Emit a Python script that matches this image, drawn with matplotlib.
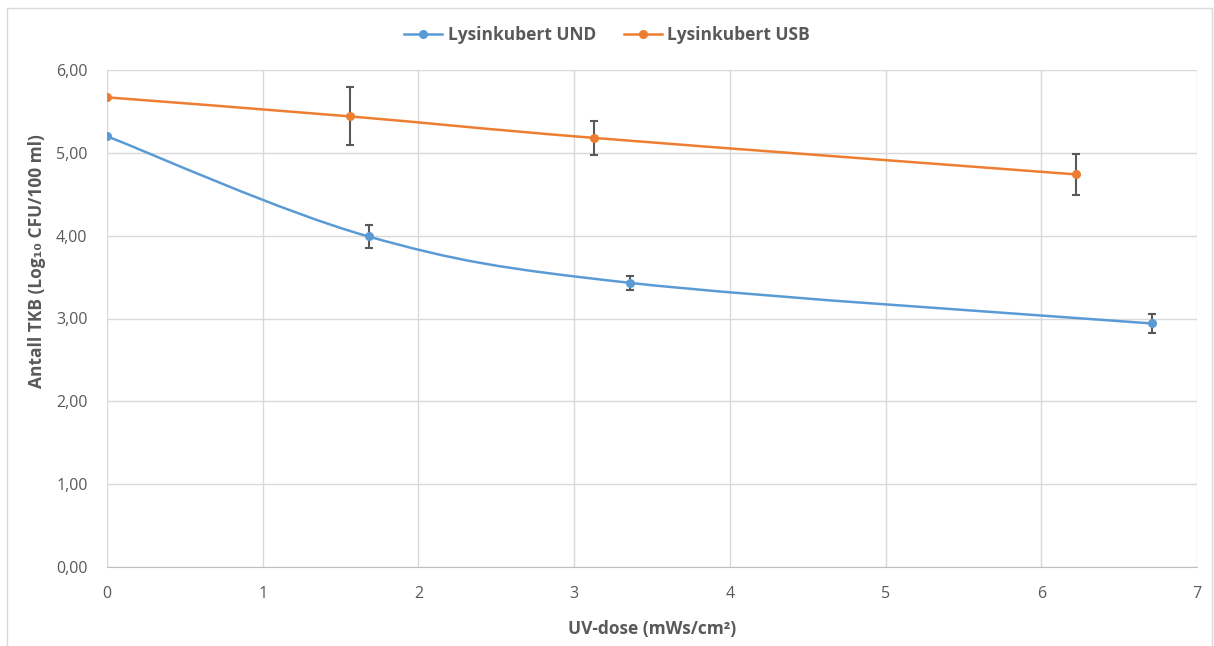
import matplotlib.pyplot as plt
import numpy as np
from matplotlib.path import Path
from matplotlib.patches import PathPatch, Rectangle
from matplotlib.lines import Line2D

plt.rcParams['font.family'] = ['Open Sans', 'DejaVu Sans']

# Data
dose_und = [0.0, 1.68, 3.36, 6.71]
tkb_und = [5.20, 3.99, 3.43, 2.94]
err_und = [0.0, 0.14, 0.08, 0.11]

dose_usb = [0.0, 1.56, 3.13, 6.22]
tkb_usb = [5.67, 5.44, 5.18, 4.74]
err_usb = [0.0, 0.35, 0.21, 0.25]

labels = ['Lysinkubert UND', 'Lysinkubert USB']
colors = ['#5B9BD5', '#ED7D31']
grey = '#595959'


def smooth_path(x, y):
    # Excel-like smoothed line: cubic bezier through the points
    p = np.column_stack([x, y])
    ext = np.vstack([p[0], p, p[-1]])
    verts = [p[0]]
    codes = [Path.MOVETO]
    for i in range(len(p) - 1):
        a, b, c, d = ext[i], ext[i + 1], ext[i + 2], ext[i + 3]
        verts += [b + (c - a) / 6, c - (d - b) / 6, c]
        codes += [Path.CURVE4] * 3
    return Path(verts, codes)


fig = plt.figure(figsize=(12.14, 6.46), dpi=100)
fig.patches.append(Rectangle((7 / 1214, -0.01), 1205 / 1214, 1 - 8 / 646 + 0.01,
                             transform=fig.transFigure, fill=False,
                             edgecolor='#d9d9d9', linewidth=1))
ax = fig.add_axes([107 / 1214, 1 - 567 / 646, 1090 / 1214, 497 / 646])

handles = []
for xs, ys, es, col, lab in [(dose_und, tkb_und, err_und, colors[0], labels[0]),
                             (dose_usb, tkb_usb, err_usb, colors[1], labels[1])]:
    ax.add_patch(PathPatch(smooth_path(xs, ys), fill=False, edgecolor=col,
                           linewidth=1.8, zorder=3))
    ax.errorbar(xs[1:], ys[1:], yerr=es[1:], fmt='none', ecolor=grey,
                elinewidth=1.5, capsize=3, capthick=1.5, zorder=4)
    ax.plot(xs, ys, 'o', color=col, markersize=5.5, zorder=5)
    handles.append(Line2D([], [], color=col, marker='o', markersize=5.5,
                          linewidth=1.8, label=lab))

ax.set_xlim(0, 7)
ax.set_ylim(0, 6)
ax.set_xticks(range(0, 8))
ax.set_yticks(np.arange(0, 7, 1))
ax.set_yticklabels([f'{v:.2f}'.replace('.', ',') for v in range(0, 7)])
ax.grid(True, color='#d9d9d9', linewidth=1)
ax.set_axisbelow(True)
for s in ['top', 'right', 'left']:
    ax.spines[s].set_visible(False)
ax.spines['bottom'].set_color('#bfbfbf')
ax.tick_params(length=0, colors=grey, labelsize=11.5)
ax.tick_params(axis='x', pad=14)
ax.tick_params(axis='y', pad=14)

ax.set_xlabel('UV-dose (mWs/cm²)', fontsize=12.5, fontweight='bold', color=grey)
ax.set_ylabel('Antall TKB (Log₁₀ CFU/100 ml)', fontsize=12.5, fontweight='bold',
              color=grey)
ax.xaxis.set_label_coords(0.5, -(620 - 567) / 497)
ax.yaxis.set_label_coords(-(107 - 46) / 1090, (567 - 261) / 497)

leg = fig.legend(handles=handles, loc='center', bbox_to_anchor=(0.5, 1 - 35 / 646),
                 ncol=2, frameon=False, fontsize=12.5, handlelength=2.2,
                 columnspacing=1.6, handletextpad=0.3)
for t in leg.get_texts():
    t.set_color(grey)
    t.set_fontweight('bold')

fig.savefig('out.png', dpi=100)
